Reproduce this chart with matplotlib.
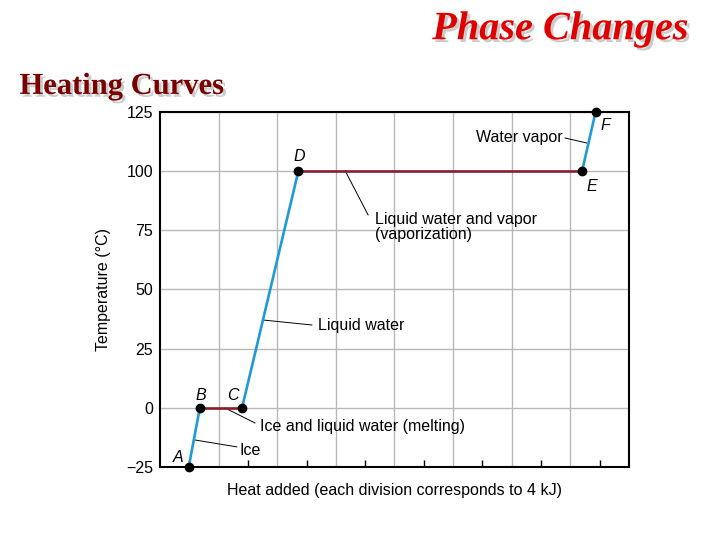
import numpy as np
import matplotlib
matplotlib.use("Agg")
import matplotlib.pyplot as plt
import matplotlib.patheffects as pe

# heating curve points A..F (x in divisions, y in deg C)
point_names = ["A", "B", "C", "D", "E", "F"]
heat = [0.49, 0.68, 1.40, 2.36, 7.20, 7.43]
temp = [-25, 0, 0, 100, 100, 125]
# segment kind: True = phase change (flat)
flat = [False, True, False, True, False]

label_pos = [(0.31, -21.2), (0.70, 5.4), (1.25, 5.4), (2.37, 106.0), (7.37, 93.7), (7.59, 119.5)]

# leader labels: text, text position, alignment, leader line
notes = [
    ("Water vapor", (6.86, 114.4), "right", [(6.91, 7.28), (114.0, 111.9)]),
    ("Liquid water and vapor\n(vaporization)", (3.67, 76.4), "left", [(3.16, 3.55), (100.1, 81.5)]),
    ("Liquid water", (2.70, 34.6), "left", [(1.76, 2.59), (37.1, 35.0)]),
    ("Ice and liquid water (melting)", (1.71, -7.7), "left", [(1.11, 1.62), (-0.07, -6.4)]),
    ("Ice", (1.36, -18.2), "left", [(0.60, 1.31), (-13.6, -16.5)]),
]

y_ticks = [-25, 0, 25, 50, 75, 100, 125]
y_tick_labels = ["\u221225", "0", "25", "50", "75", "100", "125"]

blue = "#1e9bd7"
red = "#8b1c2c"
fs = 11.5

plt.rcParams['font.family'] = ['Liberation Sans', 'DejaVu Sans']

def main():
    fig = plt.figure(figsize=(7.2, 5.4), dpi=100)
    ax = fig.add_axes([0.2222, 0.1352, 0.6514, 0.6574])
    ax.set_xlim(0, 8)
    ax.set_ylim(-25, 125)

    ax.set_xticks(np.arange(1, 8))
    ax.set_xticks(np.arange(0.5, 8, 1), minor=True)
    ax.set_yticks(y_ticks)
    ax.set_yticklabels(y_tick_labels, fontsize=fs)
    ax.grid(True, which="major", color="#b8b8b8", lw=1)
    ax.tick_params(axis="x", which="major", length=0, labelbottom=False)
    ax.tick_params(axis="x", which="minor", direction="in", length=5, width=1, labelbottom=False)
    ax.tick_params(axis="y", length=0, pad=5)
    for s in ax.spines.values():
        s.set_linewidth(1.5)
        s.set_color("black")

    for i in range(len(heat) - 1):
        c = red if flat[i] else blue
        ax.plot(heat[i:i + 2], temp[i:i + 2], color=c, lw=1.9, solid_capstyle="butt", zorder=3)
    ax.plot(heat, temp, "o", color="black", ms=6, clip_on=False, zorder=4)

    for name, (lx, ly) in zip(point_names, label_pos):
        ax.text(lx, ly, name, fontsize=fs, style="italic", ha="center", va="center")

    for txt, (tx, ty), ha, (lxs, lys) in notes:
        ax.plot(lxs, lys, color="black", lw=0.7, zorder=2)
        ax.text(tx, ty, txt, fontsize=fs, ha=ha, va="center", linespacing=0.95)

    ax.set_ylabel("Temperature (\u00b0C)", fontsize=fs, va="center")
    ax.yaxis.set_label_coords(-0.12, 0.5)
    ax.set_xlabel("Heat added (each division corresponds to 4 kJ)", fontsize=fs, va="center")
    ax.xaxis.set_label_coords(0.5, -0.065)

    shadow = [pe.SimplePatchShadow(offset=(2, -2), shadow_rgbFace="#999999", alpha=0.5), pe.Normal()]
    fig.text(0.956, 0.945, "Phase Changes", family=["Liberation Serif", "DejaVu Serif"],
             fontsize=29, weight="bold", style="italic", color="#e00000",
             ha="right", va="center", path_effects=shadow)
    fig.text(0.027, 0.840, "Heating Curves", family=["Liberation Serif", "DejaVu Serif"],
             fontsize=22, weight="bold", color="#7a0000",
             ha="left", va="center", path_effects=shadow)

    fig.savefig("out.png", dpi=100)

if __name__ == "__main__":
    main()
